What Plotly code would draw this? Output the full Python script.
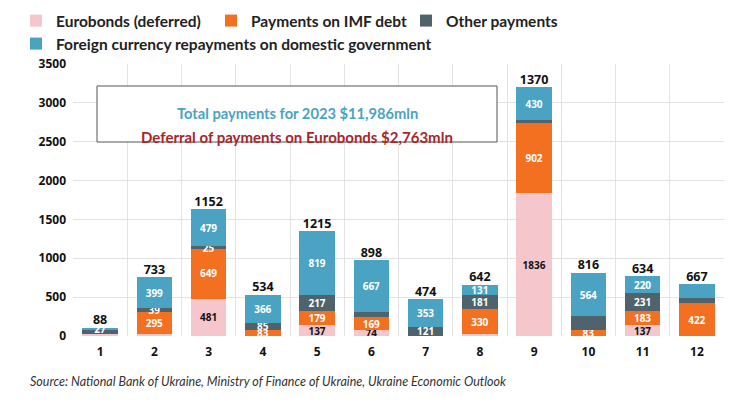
import plotly.graph_objects as go

months = list(range(1, 13))
eurobonds = [20, 20, 481, 0, 137, 74, 0, 20, 1836, 0, 137, 0]
imf = [0, 295, 649, 83, 179, 169, 0, 330, 902, 83, 183, 422]
other = [61, 39, 25, 85, 217, 62, 121, 181, 38, 169, 231, 62]
foreign = [27, 399, 479, 366, 819, 667, 353, 131, 430, 564, 220, 183]
totals = [88, 733, 1152, 534, 1215, 898, 474, 642, 1370, 816, 634, 667]

eurobond_labeled = [3, 5, 6, 9, 11]
other_unlabeled = [1, 6, 9, 10, 12]
foreign_unlabeled = [12]

names = ["Eurobonds (deferred)", "Payments on IMF debt", "Other payments",
         "Foreign currency repayments on domestic government"]
legend_ids = ["legend", "legend", "legend", "legend2"]
colors = ["#F5C6CB", "#F37021", "#4E636B", "#4BA3C3"]
box_line1 = "Total payments for 2023 $11,986mln"
box_line2 = "Deferral of payments on Eurobonds $2,763mln"
source = "Source: National Bank of Ukraine, Ministry of Finance of Ukraine, Ukraine Economic Outlook"

# page has an 8px body margin; figure sized to fit the 750x407 window
W, H, OFF = 734, 391, 8


def labels(values, show):
    return [str(v) if (show(m) and v > 0) else "" for m, v in zip(months, values)]


texts = [
    labels(eurobonds, lambda m: m in eurobond_labeled),
    labels(imf, lambda m: True),
    labels(other, lambda m: m not in other_unlabeled),
    labels(foreign, lambda m: m not in foreign_unlabeled),
]
series = [eurobonds, imf, other, foreign]
text_colors = ["#111111", "white", "white", "white"]

fig = go.Figure()
for name, vals, col, txt, tc, lg in zip(names, series, colors, texts, text_colors, legend_ids):
    fig.add_trace(go.Bar(
        x=months, y=vals, name=name, marker=dict(color=col, line=dict(width=0)),
        text=txt, textposition="inside", insidetextanchor="middle", textangle=0,
        textfont=dict(family="Open Sans", size=10, color=tc, weight="bold"),
        hoverinfo="skip", legend=lg,
    ))

stack_tops = [sum(v) for v in zip(*series)]
fig.add_trace(go.Scatter(
    x=months, y=stack_tops, mode="text", text=[str(t) for t in totals],
    textposition="top center", showlegend=False, cliponaxis=False,
    textfont=dict(family="Open Sans", size=12.5, color="#111111", weight="bold"),
    hoverinfo="skip",
))

legend_font = dict(family="Lato", size=15.5, color="#222222", weight="bold")
fig.update_layout(
    width=W, height=H,
    margin=dict(l=73 - OFF, r=W - (724 - OFF), t=64 - OFF, b=H - (336 - OFF), autoexpand=False),
    paper_bgcolor="white", plot_bgcolor="white",
    barmode="stack", bargap=0.35,
    uniformtext=dict(minsize=10, mode="show"),
    showlegend=True,
    legend=dict(
        orientation="h", xref="container", yref="container",
        x=OFF / W, y=1 - (21 - OFF) / H, xanchor="left", yanchor="middle",
        traceorder="normal", entrywidth=150, entrywidthmode="pixels",
        font=legend_font, itemwidth=30, tracegroupgap=0, bgcolor="rgba(0,0,0,0)",
    ),
    legend2=dict(
        orientation="h", xref="container", yref="container",
        x=OFF / W, y=1 - (44 - OFF) / H, xanchor="left", yanchor="middle",
        font=legend_font, itemwidth=30, bgcolor="rgba(0,0,0,0)",
    ),
    xaxis=dict(
        range=[0.5, 12.5], tickmode="array", tickvals=months,
        ticktext=[str(m) for m in months], showgrid=False, zeroline=False,
        tickfont=dict(family="Open Sans", size=12, color="#111111", weight="bold"),
        ticks="", showline=False, ticklabelstandoff=7,
        minor=dict(tick0=0.5, dtick=1, showgrid=True, gridcolor="#E3E3E3", gridwidth=1, ticks=""),
    ),
    yaxis=dict(
        range=[0, 3500], dtick=500, showgrid=True, gridcolor="#E3E3E3", gridwidth=1,
        zeroline=False, ticks="",
        tickfont=dict(family="Open Sans", size=12, color="#111111", weight="bold"),
        ticklabelstandoff=6,
    ),
)

# text box (paper coords relative to plot area: x 73..724, y 64..336 in page pixels)
fig.add_shape(type="rect", xref="paper", yref="paper",
              x0=(97 - 73) / 651, x1=(497 - 73) / 651, y0=(336 - 142) / 272, y1=(336 - 86) / 272,
              line=dict(color="#555555", width=1), fillcolor="white", layer="above")
fig.add_annotation(xref="paper", yref="paper", x=(297 - 73) / 651, y=(336 - 102) / 272, text=box_line1,
                   showarrow=False, font=dict(family="Lato", size=14.7, color="#4BA3C3", weight="bold"))
fig.add_annotation(xref="paper", yref="paper", x=(297 - 73) / 651, y=(336 - 126) / 272, text=box_line2,
                   showarrow=False, font=dict(family="Lato", size=15, color="#A7262B", weight="bold"))
fig.add_annotation(xref="paper", yref="paper", x=(28 - 73) / 651, y=(336 - 381) / 272,
                   xanchor="left", yanchor="middle", text="<i>" + source + "</i>",
                   showarrow=False, font=dict(family="Lato", size=12.5, color="#333333"))

fig.write_html("out.html")
